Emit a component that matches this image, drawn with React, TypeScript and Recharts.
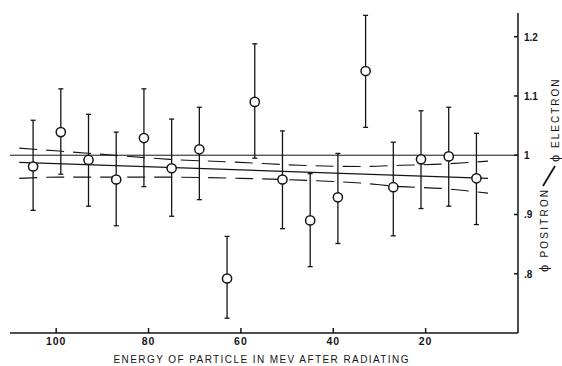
import React from "react";
import {
  ComposedChart,
  Scatter,
  Line,
  XAxis,
  YAxis,
  ErrorBar,
  ReferenceLine,
} from "recharts";

// measured points (energy in MeV after radiating, positron/electron ratio)
const energy = [105, 99, 93, 87, 81, 75, 69, 63, 57, 51, 45, 39, 33, 27, 21, 15, 9];
const ratio = [0.981, 1.039, 0.992, 0.959, 1.029, 0.978, 1.01, 0.792, 1.09, 0.959, 0.89, 0.929, 1.142, 0.946, 0.993, 0.998, 0.961];
const errLow = [0.074, 0.071, 0.078, 0.078, 0.082, 0.081, 0.085, 0.067, 0.095, 0.083, 0.078, 0.078, 0.095, 0.082, 0.083, 0.084, 0.078];
const errHigh = [0.078, 0.073, 0.077, 0.08, 0.083, 0.083, 0.071, 0.071, 0.098, 0.082, 0.079, 0.074, 0.094, 0.076, 0.082, 0.083, 0.076];

// fitted straight line
const fitEnergy = [108, 6.5];
const fitRatio = [0.988, 0.961];

// dashed confidence band
const bandEnergy = [108, 99.4, 90.7, 75.4, 60.2, 47.2, 34.1, 25.4, 16.7, 6.5];
const bandUpper = [1.012, 1.007, 1.002, 0.993, 0.988, 0.983, 0.981, 0.983, 0.985, 0.99];
const bandLower = [0.961, 0.963, 0.963, 0.963, 0.961, 0.958, 0.953, 0.947, 0.944, 0.936];

const xTicks = [20, 40, 60, 80, 100];
const yTicks = [0.8, 0.9, 1, 1.1, 1.2];

const points = energy.map((e, i) => ({ e, r: ratio[i], err: [errLow[i], errHigh[i]] }));
const fit = fitEnergy.map((e, i) => ({ e, r: fitRatio[i] }));
const upper = bandEnergy.map((e, i) => ({ e, r: bandUpper[i] }));
const lower = bandEnergy.map((e, i) => ({ e, r: bandLower[i] }));

const INK = "#151515";
const FONT = "'Liberation Sans', Arial, sans-serif";
const PLOT_BOTTOM = 333;
const PLOT_RIGHT = 518;

function XTick(props: any) {
  const { x, payload } = props;
  return (
    <g>
      <line x1={x} x2={x} y1={PLOT_BOTTOM - 5} y2={PLOT_BOTTOM} stroke={INK} strokeWidth={1.5} />
      <text x={x} y={345} textAnchor="middle" fontSize={10.5} fontWeight="bold" fontFamily={FONT} letterSpacing={1} fill={INK}>
        {payload.value}
      </text>
    </g>
  );
}

function fmtY(v: number) {
  if (v === 1) return "1";
  return v < 1 ? v.toFixed(1).replace(/^0/, "") : v.toFixed(1);
}

function YTick(props: any) {
  const { y, payload } = props;
  return (
    <g>
      <line x1={PLOT_RIGHT - 4} x2={PLOT_RIGHT} y1={y} y2={y} stroke={INK} strokeWidth={1.5} />
      <text x={PLOT_RIGHT + 6} y={y + 4} textAnchor="start" fontSize={10} fontWeight="bold" fontFamily={FONT} fill={INK}>
        {fmtY(payload.value)}
      </text>
    </g>
  );
}

const Ring = (props: any) => (
  <circle cx={props.cx} cy={props.cy} r={4.6} fill="#fff" stroke={INK} strokeWidth={1.5} />
);
const Nothing = () => <g />;

export default function App() {
  return (
    <div style={{ position: "absolute", left: 0, top: 0, width: 562, height: 366, background: "#fff" }}>
      <ComposedChart width={562} height={366} margin={{ top: 13, right: 14, bottom: 0, left: 10 }}>
        <XAxis
          type="number"
          dataKey="e"
          domain={[0, 110]}
          reversed
          ticks={xTicks}
          allowDataOverflow
          height={33}
          axisLine={{ stroke: INK, strokeWidth: 1.5 }}
          tickLine={false}
          tick={<XTick />}
        />
        <YAxis
          type="number"
          dataKey="r"
          orientation="right"
          domain={[0.7, 1.24]}
          ticks={yTicks}
          allowDataOverflow
          width={30}
          axisLine={{ stroke: INK, strokeWidth: 1.5 }}
          tickLine={false}
          tick={<YTick />}
        />
        <ReferenceLine y={1} stroke={INK} strokeWidth={1} />
        <Line data={fit} dataKey="r" stroke={INK} strokeWidth={1.2} dot={false} isAnimationActive={false} />
        <Line data={upper} dataKey="r" type="monotone" stroke={INK} strokeWidth={1.1} strokeDasharray="18 9" dot={false} isAnimationActive={false} />
        <Line data={lower} dataKey="r" type="monotone" stroke={INK} strokeWidth={1.1} strokeDasharray="18 9" dot={false} isAnimationActive={false} />
        <Scatter data={points} dataKey="r" shape={Nothing} isAnimationActive={false}>
          <ErrorBar dataKey="err" direction="y" width={2.5} stroke={INK} strokeWidth={1.3} isAnimationActive={false} />
        </Scatter>
        <Scatter data={points} dataKey="r" shape={Ring} isAnimationActive={false} />
      </ComposedChart>
      <svg width={562} height={366} style={{ position: "absolute", left: 0, top: 0, pointerEvents: "none" }}>
        <text x={261} y={363} textAnchor="middle" fontSize={10} fontFamily={FONT} fill={INK} textLength={295} lengthAdjust="spacing">
          ENERGY OF PARTICLE IN MEV AFTER RADIATING
        </text>
        <g transform="translate(548,272) rotate(-90)">
          <text x={0} y={0} fontSize={10} fontFamily={FONT} fill={INK} letterSpacing={2.2}>
            <tspan fontSize={13}>ϕ</tspan> POSITRON
          </text>
        </g>
        <line x1={543} y1={186} x2={555} y2={166} stroke={INK} strokeWidth={1.8} />
        <g transform="translate(559,162) rotate(-90)">
          <text x={0} y={0} fontSize={10} fontFamily={FONT} fill={INK} letterSpacing={2}>
            <tspan fontSize={13}>ϕ</tspan> ELECTRON
          </text>
        </g>
      </svg>
    </div>
  );
}
